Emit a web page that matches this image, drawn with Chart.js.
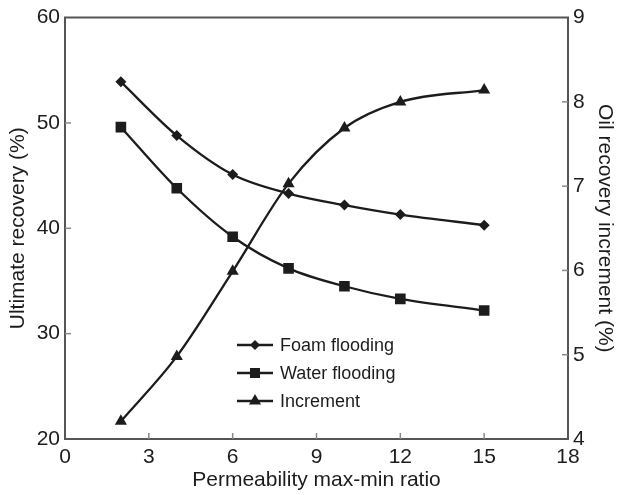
<!DOCTYPE html>
<html>
<head>
<meta charset="utf-8">
<script src="https://cdn.jsdelivr.net/npm/chart.js@4.4.1/dist/chart.umd.min.js"></script>
<style>
html,body{margin:0;padding:0;background:#fff;}
#wrap{width:617px;height:495px;position:relative;}
</style>
</head>
<body>
<div id="wrap"><canvas id="c" width="617" height="495"></canvas></div>
<script>
const ratios = [2, 4, 6, 8, 10, 12, 15];
const foamFlooding = [53.9, 48.8, 45.1, 43.3, 42.2, 41.3, 40.3];
const waterFlooding = [49.6, 43.8, 39.2, 36.2, 34.5, 33.3, 32.2];
const increment = [4.21, 4.98, 5.99, 7.03, 7.69, 8.0, 8.14];
const xTicks = [0, 3, 6, 9, 12, 15, 18];
const leftTicks = [20, 30, 40, 50, 60];
const rightTicks = [4, 5, 6, 7, 8, 9];
const seriesNames = ['Foam flooding', 'Water flooding', 'Increment'];

const FONT = '"Liberation Sans", Arial, Helvetica, sans-serif';
const INK = '#1c1c1c';
const AXIS = '#555';

function pts(xs, ys) { return xs.map((x, i) => ({x: x, y: ys[i]})); }

const lineStyle = {
  borderColor: INK, backgroundColor: INK, borderWidth: 2.3,
  pointBorderColor: INK, pointBackgroundColor: INK, pointBorderWidth: 0,
  cubicInterpolationMode: 'monotone', fill: false
};

function drawMarker(ctx, type, x, y) {
  ctx.beginPath();
  if (type === 'diamond') {
    const r = 5;
    ctx.moveTo(x, y - r); ctx.lineTo(x + r, y); ctx.lineTo(x, y + r); ctx.lineTo(x - r, y);
  } else if (type === 'square') {
    const s = 5;
    ctx.rect(x - s, y - s, 2 * s, 2 * s);
  } else {
    const r = 7;
    ctx.moveTo(x, y - r);
    ctx.lineTo(x + r * 0.866, y + r * 0.5);
    ctx.lineTo(x - r * 0.866, y + r * 0.5);
  }
  ctx.closePath();
  ctx.fill();
}

const framePlugin = {
  id: 'frame',
  afterDraw(chart) {
    const ctx = chart.ctx;
    const a = chart.chartArea;
    const sx = chart.scales.x, sy = chart.scales.y, sy2 = chart.scales.y2;
    ctx.save();
    ctx.strokeStyle = '#888';
    ctx.lineWidth = 1.5;
    const tl = 6;
    xTicks.forEach(v => {
      if (v === xTicks[0] || v === xTicks[xTicks.length - 1]) return;
      const px = sx.getPixelForValue(v);
      ctx.beginPath(); ctx.moveTo(px, a.bottom); ctx.lineTo(px, a.bottom - tl); ctx.stroke();
    });
    leftTicks.forEach(v => {
      if (v === leftTicks[0] || v === leftTicks[leftTicks.length - 1]) return;
      const py = sy.getPixelForValue(v);
      ctx.beginPath(); ctx.moveTo(a.left, py); ctx.lineTo(a.left + tl, py); ctx.stroke();
    });
    rightTicks.forEach(v => {
      if (v === rightTicks[0] || v === rightTicks[rightTicks.length - 1]) return;
      const py = sy2.getPixelForValue(v);
      ctx.beginPath(); ctx.moveTo(a.right, py); ctx.lineTo(a.right - tl, py); ctx.stroke();
    });
    ctx.strokeStyle = AXIS;
    ctx.lineWidth = 2;
    ctx.beginPath(); ctx.moveTo(a.left - 1, a.top); ctx.lineTo(a.right + 1, a.top); ctx.stroke();

    const types = ['diamond', 'square', 'triangle'];
    const lx0 = 237, lx1 = 273, mx = 255, tx = 280;
    const ys = [345, 373, 401];
    ctx.font = '18px ' + FONT;
    ctx.textBaseline = 'middle';
    ctx.textAlign = 'left';
    seriesNames.forEach((name, i) => {
      ctx.strokeStyle = INK; ctx.fillStyle = INK; ctx.lineWidth = 2.3;
      ctx.beginPath(); ctx.moveTo(lx0, ys[i]); ctx.lineTo(lx1, ys[i]); ctx.stroke();
      drawMarker(ctx, types[i], mx, ys[i]);
      ctx.fillStyle = INK;
      ctx.fillText(name, tx, ys[i] + 1);
    });
    ctx.restore();
  }
};

new Chart(document.getElementById('c'), {
  type: 'line',
  data: {
    datasets: [
      Object.assign({label: seriesNames[0], data: pts(ratios, foamFlooding), yAxisID: 'y',
        pointStyle: 'rectRot', pointRadius: 5.5}, lineStyle),
      Object.assign({label: seriesNames[1], data: pts(ratios, waterFlooding), yAxisID: 'y',
        pointStyle: 'rect', pointRadius: 7.5}, lineStyle),
      Object.assign({label: seriesNames[2], data: pts(ratios, increment), yAxisID: 'y2',
        pointStyle: 'triangle', pointRadius: 7}, lineStyle)
    ]
  },
  options: {
    responsive: false,
    animation: false,
    devicePixelRatio: 1,
    layout: {padding: {top: 16, left: 0, right: 0, bottom: 0}},
    plugins: {legend: {display: false}, tooltip: {enabled: false}},
    scales: {
      x: {
        type: 'linear', position: 'bottom', min: 0, max: 18,
        afterBuildTicks: s => { s.ticks = xTicks.map(v => ({value: v})); },
        afterFit: s => { s.height = 56; },
        grid: {display: false, drawTicks: false},
        border: {display: true, color: AXIS, width: 2},
        ticks: {color: INK, font: {family: FONT, size: 21}, padding: 6, maxRotation: 0, autoSkip: false},
        title: {display: true, text: 'Permeability max-min ratio', color: INK,
          font: {family: FONT, size: 21, lineHeight: 1}, padding: {top: 0, bottom: 4}}
      },
      y: {
        type: 'linear', position: 'left', min: 20, max: 60,
        afterBuildTicks: s => { s.ticks = leftTicks.map(v => ({value: v})); },
        afterFit: s => { s.width = 65; },
        grid: {display: false, drawTicks: false},
        border: {display: true, color: AXIS, width: 2},
        ticks: {color: INK, font: {family: FONT, size: 21}, padding: 5},
        title: {display: true, text: 'Ultimate recovery (%)', color: INK,
          font: {family: FONT, size: 21, lineHeight: 1}, padding: {top: 8, bottom: 0}}
      },
      y2: {
        type: 'linear', position: 'right', min: 4, max: 9,
        afterBuildTicks: s => { s.ticks = rightTicks.map(v => ({value: v})); },
        afterFit: s => { s.width = 49; },
        grid: {display: false, drawTicks: false},
        border: {display: true, color: AXIS, width: 2},
        ticks: {color: INK, font: {family: FONT, size: 21}, padding: 5},
        title: {display: true, text: 'Oil recovery increment (%)', color: INK,
          font: {family: FONT, size: 21, lineHeight: 1}, padding: {top: 1.5, bottom: 0}}
      }
    }
  },
  plugins: [framePlugin]
});
</script>
</body>
</html>
